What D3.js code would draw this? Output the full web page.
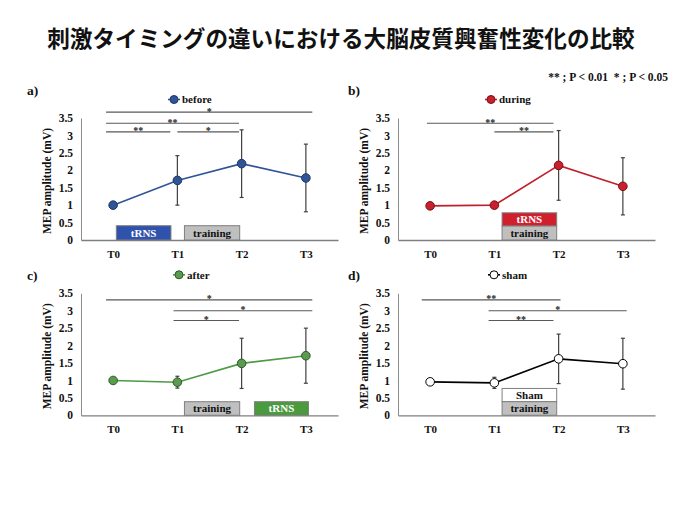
<!DOCTYPE html>
<html><head><meta charset="utf-8">
<script src="https://cdn.jsdelivr.net/npm/d3@7"></script>
<style>
body{margin:0;background:#fff;}
svg text{font-family:"Liberation Serif","Times New Roman",serif;font-weight:bold;}
</style></head>
<body><svg id="c" width="680" height="510"></svg>
<script>
// ---------- data ----------
const titleText = "刺激タイミングの違いにおける大脳皮質興奮性変化の比較";
const categories = ["T0", "T1", "T2", "T3"];
const yTicks = [0, 0.5, 1, 1.5, 2, 2.5, 3, 3.5];
const panelLabels = ["a)", "b)", "c)", "d)"];
const seriesNames = ["before", "during", "after", "sham"];

const beforeMean = [1.00, 1.71, 2.19, 1.78];
const beforeSD   = [0, 0.71, 0.97, 0.97];
const duringMean = [0.98, 1.00, 2.14, 1.54];
const duringSD   = [0, 0, 1.00, 0.82];
const afterMean  = [1.00, 0.95, 1.49, 1.71];
const afterSD    = [0, 0.17, 0.72, 0.79];
const shamMean   = [0.96, 0.93, 1.62, 1.48];
const shamSD     = [0, 0.16, 0.71, 0.73];

// significance brackets: [from index, to index, level (mV), label]
const beforeSig = [[-0.11, 3.10, 3.67, "*"], [-0.11, 1.96, 3.35, "**"], [-0.11, 0.89, 3.10, "**"], [1.00, 1.96, 3.10, "*"]];
const duringSig = [[-0.05, 1.92, 3.35, "**"], [1.00, 1.92, 3.10, "**"]];
const afterSig  = [[-0.11, 3.10, 3.31, "*"], [0.94, 3.10, 3.00, "*"], [0.94, 1.96, 2.72, "*"]];
const shamSig   = [[-0.13, 2.03, 3.31, "**"], [0.91, 3.06, 3.00, "*"], [0.91, 1.92, 2.72, "**"]];

// protocol boxes: [label, from index, to index, low mV, high mV]
const beforeBoxes = [["tRNS", 0.05, 0.90, 0, 0.41], ["training", 1.11, 1.97, 0, 0.41]];
const duringBoxes = [["tRNS", 1.12, 1.97, 0.40, 0.78], ["training", 1.12, 1.97, 0, 0.40]];
const afterBoxes  = [["training", 1.11, 1.97, 0, 0.39], ["tRNS", 2.20, 3.04, 0, 0.39]];
const shamBoxes   = [["Sham", 1.12, 1.97, 0.39, 0.77], ["training", 1.12, 1.97, 0, 0.39]];

const sigNote = "** ; P < 0.01  * ; P < 0.05";

// ---------- styles / layout ----------
const styles = [
  {line: "#2f5597", fill: "#2f5597", stroke: "#1f3864", box: "#2f52ad"},
  {line: "#c0202e", fill: "#c8202e", stroke: "#7a1010", box: "#d0202e"},
  {line: "#4e9a47", fill: "#5b9a4f", stroke: "#2d5a28", box: "#4a9a3e"},
  {line: "#000000", fill: "#ffffff", stroke: "#000000", box: "#ffffff"}
];
const boxFill = {"tRNS": null, "training": "#bfbfbf", "Sham": "#ffffff"};
const layout = [
  {left: 81, bottom: 240, legendX: 93, labelX: 27, labelY: 95},
  {left: 398, bottom: 240, legendX: 93, labelX: 348, labelY: 95},
  {left: 81, bottom: 415.3, legendX: 98, labelX: 27, labelY: 280},
  {left: 398, bottom: 415.3, legendX: 96, labelX: 348, labelY: 280}
];
const W = 257, H = 122;

const means = [beforeMean, duringMean, afterMean, shamMean];
const sds = [beforeSD, duringSD, afterSD, shamSD];
const sigs = [beforeSig, duringSig, afterSig, shamSig];
const boxes = [beforeBoxes, duringBoxes, afterBoxes, shamBoxes];

const svg = d3.select("#c");

svg.append("text").attr("x", 341).attr("y", 46.5).attr("text-anchor", "middle")
  .style("font-family", "'Noto Sans CJK JP', sans-serif").style("font-weight", "bold")
  .style("font-size", "22.6px").attr("fill", "#111").text(titleText);

svg.append("text").attr("x", 668).attr("y", 80.5).attr("text-anchor", "end")
  .style("font-size", "11.5px").style("white-space", "pre").attr("fill", "#111").text(sigNote);

for (let p = 0; p < 4; p++) {
  const L = layout[p], st = styles[p];
  const g = svg.append("g").attr("transform", `translate(${L.left},${L.bottom - H})`);
  const x = d3.scaleLinear().domain([-0.5, 3.5]).range([0, W]);
  const y = d3.scaleLinear().domain([0, 3.5]).range([H, 0]);

  svg.append("text").attr("x", L.labelX).attr("y", L.labelY).style("font-size", "13.5px")
    .attr("fill", "#111").text(panelLabels[p]);

  // y axis
  const ya = d3.axisLeft(y).tickValues(yTicks).tickSize(0).tickPadding(8)
    .tickFormat(d => String(d));
  const yg = g.append("g").call(ya);
  yg.select(".domain").attr("stroke", "#8c8c8c").attr("stroke-width", 1);
  yg.selectAll("text").style("font-size", "11.5px").style("font-family", "'Liberation Serif',serif")
    .style("font-weight", "bold").attr("fill", "#111");

  // x axis
  const xa = d3.axisBottom(x).tickValues(d3.range(categories.length)).tickSize(0).tickPadding(10)
    .tickFormat(i => categories[i]);
  const xg = g.append("g").attr("transform", `translate(0,${H})`).call(xa);
  xg.select(".domain").attr("stroke", "#7f7f7f").attr("stroke-width", 1.3);
  xg.selectAll("text").style("font-size", "11px").style("font-family", "'Liberation Serif',serif")
    .style("font-weight", "bold").attr("fill", "#111");

  g.append("text").attr("transform", `translate(-30,${H / 2 + 2}) rotate(-90)`)
    .attr("text-anchor", "middle").style("font-size", "11.5px").attr("fill", "#111")
    .text("MEP amplitude (mV)");

  // boxes
  boxes[p].forEach(b => {
    const fill = b[0] === "tRNS" ? st.box : boxFill[b[0]];
    g.append("rect").attr("x", x(b[1])).attr("y", y(b[4]))
      .attr("width", x(b[2]) - x(b[1])).attr("height", y(b[3]) - y(b[4]))
      .attr("fill", fill).attr("stroke", "#7f7f7f").attr("stroke-width", 1);
    g.append("text").attr("x", (x(b[1]) + x(b[2])) / 2).attr("y", (y(b[3]) + y(b[4])) / 2 + 4)
      .attr("text-anchor", "middle").style("font-size", "11px")
      .attr("fill", b[0] === "tRNS" ? "#fff" : "#111").text(b[0]);
  });

  // significance
  sigs[p].forEach(s => {
    g.append("line").attr("x1", x(s[0])).attr("x2", x(s[1])).attr("y1", y(s[2])).attr("y2", y(s[2]))
      .attr("stroke", "#595959").attr("stroke-width", 1.2);
    g.append("text").attr("x", (x(s[0]) + x(s[1])) / 2).attr("y", y(s[2]) + 2.5)
      .attr("text-anchor", "middle").style("font-size", "10px").attr("fill", "#222").text(s[3]);
  });

  // error bars
  const m = means[p], sd = sds[p];
  m.forEach((v, i) => {
    if (sd[i] <= 0) return;
    const cx = x(i);
    g.append("line").attr("x1", cx).attr("x2", cx).attr("y1", y(v - sd[i])).attr("y2", y(v + sd[i]))
      .attr("stroke", "#404040").attr("stroke-width", 1.2);
    [v - sd[i], v + sd[i]].forEach(e => g.append("line").attr("x1", cx - 2).attr("x2", cx + 2)
      .attr("y1", y(e)).attr("y2", y(e)).attr("stroke", "#404040").attr("stroke-width", 1.2));
  });

  // line + markers
  g.append("path").datum(m).attr("fill", "none").attr("stroke", st.line).attr("stroke-width", 1.6)
    .attr("d", d3.line().x((d, i) => x(i)).y(d => y(d)));
  g.selectAll("circle.pt").data(m).enter().append("circle").attr("class", "pt")
    .attr("cx", (d, i) => x(i)).attr("cy", d => y(d)).attr("r", 4.3)
    .attr("fill", st.fill).attr("stroke", st.stroke).attr("stroke-width", 1);

  // legend
  const lx = L.legendX, ly = -18.5;
  g.append("line").attr("x1", lx - 6).attr("x2", lx + 6).attr("y1", ly).attr("y2", ly)
    .attr("stroke", st.line).attr("stroke-width", 1.6);
  g.append("circle").attr("cx", lx).attr("cy", ly).attr("r", 4).attr("fill", st.fill)
    .attr("stroke", st.stroke).attr("stroke-width", 1);
  g.append("text").attr("x", lx + 8).attr("y", ly + 3.8).style("font-size", "11px")
    .attr("fill", "#111").text(seriesNames[p]);
}
</script></body></html>
